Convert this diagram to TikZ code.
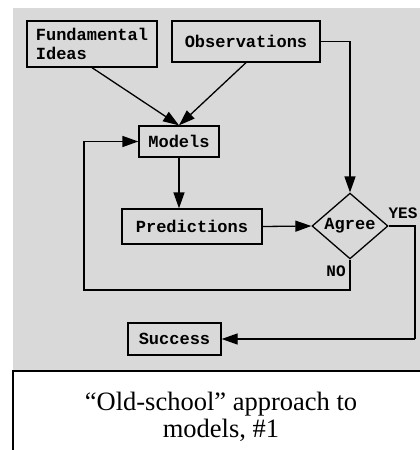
\documentclass[tikz,border=0pt]{standalone}
\usepackage{fontspec}
\usepackage{tikz}
\usetikzlibrary{positioning, shapes, arrows.meta, calc}
\newfontfamily\capfont{Liberation Serif}
\newfontfamily\boxfont{Liberation Mono}
\definecolor{PanelGray}{RGB}{217,217,217}

\begin{document}
\begin{tikzpicture}[
  x=1pt, y=-1pt,
  box/.style={rectangle, draw=black, line width=1.3pt, align=left, inner sep=2pt, font=\boxfont\bfseries\fontsize{17}{19}\selectfont},
  decide/.style={diamond, draw=black, line width=1.3pt, inner sep=0pt, minimum width=76pt, minimum height=53pt, font=\boxfont\bfseries\fontsize{17}{19}\selectfont},
  arrow/.style={-{Triangle[length=16pt, width=11pt]}, line width=1.3pt},
  plain/.style={line width=1.3pt},
  label/.style={font=\boxfont\bfseries\fontsize{16}{16}\selectfont}
]
\useasboundingbox (0,0) rectangle (420,450);

% Panel + caption frame
\fill[PanelGray] (13,8) rectangle (420,370);
\begin{scope}
  \clip (0,0) rectangle (420,450);
  \draw[line width=1.3pt, fill=white] (13,371) rectangle (430,460);
\end{scope}

% Row 1: inputs
\node[box, minimum width=130pt, minimum height=46pt] (fund) at (92,44) {Fundamental\\Ideas};
\node[box, minimum width=148pt, minimum height=41pt] (obs) at (246,41.5) {Observations};

% Row 2-3: model loop
\node[box, minimum width=80pt, minimum height=31pt, align=center] (models) at (179,141.5) {Models};
\node[box, minimum width=140pt, minimum height=35pt, align=center] (pred) at (192,226.5) {Predictions};
\node[decide] (agree) at (350,226) {Agree};

% Outcome
\node[box, minimum width=93pt, minimum height=32pt, align=center] (success) at (174.5,339) {Success};

% Corners
\coordinate (noback) at (84,290);
\coordinate (yesdrop) at (415,339);

% Arrows
\draw[arrow] (fund.south) -- (models.north);
\draw[arrow] (obs.south) -- (models.north);
\draw[arrow] (obs.east) -| (agree.north);
\draw[arrow] (models.south) -- (models.south |- pred.north);
\draw[arrow] (pred.east) -- (agree.west);

% NO loop back to Models
\draw[arrow] (agree.south) |- (noback) |- (models.west);
\node[label] (nolabel) at (336,271) {NO};

% YES to Success
\draw[plain] (agree.east) -| (yesdrop);
\draw[arrow] (yesdrop) -- (success.east);
\node[label] (yeslabel) at (403,213) {YES};

% Caption
\node[font=\capfont\fontsize{26.5}{27}\selectfont, align=center] (caption) at (221,417) {“Old-school” approach to\\models, \#1};

\end{tikzpicture}
\end{document}
